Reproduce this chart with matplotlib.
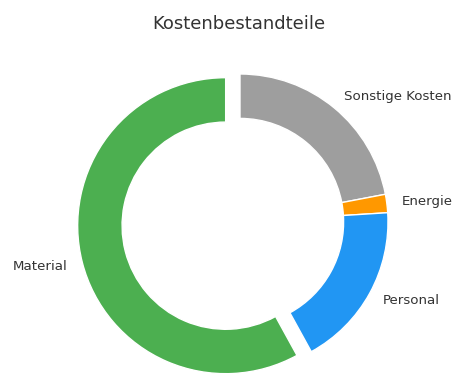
import matplotlib
matplotlib.use("Agg")
import matplotlib.pyplot as plt

categories = ["Sonstige Kosten", "Energie", "Personal", "Material"]
values = [22, 2, 18, 58]
colors = ["#9E9E9E", "#FF9800", "#2196F3", "#4CAF50"]
explode = [0, 0, 0, 0.1]

W, H = 470, 386
fig = plt.figure(figsize=(W / 100, H / 100), dpi=100)
ax = fig.add_axes([0, 0, 1, 1])
ax.pie(values, labels=categories, colors=colors, explode=explode,
       startangle=90, counterclock=False, labeldistance=1.1,
       wedgeprops=dict(width=0.3, edgecolor="white", linewidth=1),
       textprops=dict(fontsize=9.6, color="#333333"))
cx, cy, r = 240, 222, 148
ax.set_xlim((0 - cx) / r, (W - cx) / r)
ax.set_ylim((cy - H) / r, cy / r)
ax.set_aspect("auto")
ax.axis("off")
fig.text(239 / W, 1 - 24 / H, "Kostenbestandteile", ha="center", va="center",
         fontsize=13, color="#333333")
fig.savefig("out.png", dpi=100)
